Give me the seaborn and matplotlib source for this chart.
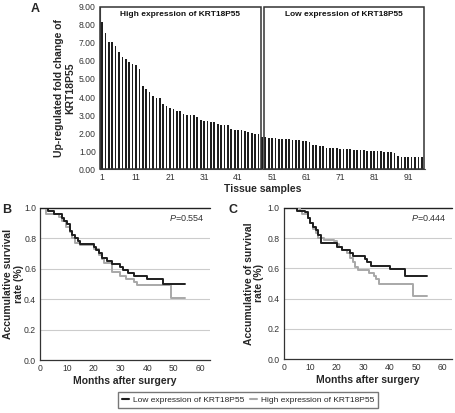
import numpy as np
import pandas as pd
import matplotlib
matplotlib.use("Agg")
import matplotlib.pyplot as plt
from matplotlib.patches import Rectangle
from matplotlib.lines import Line2D
import seaborn as sns

# ---------------- data ----------------
high_fold = [8.17, 7.52, 7.03, 7.03, 6.82, 6.51, 6.20, 6.10, 5.96, 5.83, 5.75, 5.57,
             4.61, 4.43, 4.28, 4.06, 3.97, 3.95, 3.60, 3.50, 3.41, 3.34, 3.23, 3.23,
             3.06, 3.02, 3.02, 2.99, 2.91, 2.71, 2.67, 2.66, 2.62, 2.62, 2.51, 2.47,
             2.47, 2.45, 2.21, 2.19, 2.17, 2.17, 2.14, 2.08, 2.01, 1.97, 1.95]
low_fold = [1.80, 1.79, 1.75, 1.73, 1.72, 1.68, 1.68, 1.66, 1.66, 1.64, 1.62, 1.60,
            1.58, 1.55, 1.53, 1.34, 1.33, 1.31, 1.29, 1.20, 1.18, 1.16, 1.16, 1.13,
            1.12, 1.11, 1.11, 1.08, 1.07, 1.05, 1.05, 1.03, 1.01, 1.01, 1.01, 1.00,
            0.97, 0.96, 0.94, 0.89, 0.74, 0.70, 0.70, 0.70, 0.68, 0.68, 0.68, 0.68]
sample_ticks = [1, 11, 21, 31, 41, 51, 61, 71, 81, 91]
fold_ticks = [0, 1, 2, 3, 4, 5, 6, 7, 8, 9]

# Kaplan-Meier step curves (months, survival)
b_low_t = [0, 3, 5, 8, 9, 10, 11, 12, 13, 14, 15, 20, 21, 22, 23, 25, 27, 30, 31, 33, 35, 40, 46, 54]
b_low_s = [1.0, 0.98, 0.96, 0.93, 0.91, 0.89, 0.85, 0.82, 0.80, 0.78, 0.76, 0.74, 0.72, 0.70,
           0.67, 0.65, 0.63, 0.61, 0.59, 0.57, 0.55, 0.535, 0.50, 0.50]
b_high_t = [0, 2, 7, 8, 9.5, 11, 12, 13, 15, 20, 22, 23, 24, 27, 30, 32, 35, 36, 49, 54]
b_high_s = [1.0, 0.96, 0.94, 0.91, 0.87, 0.84, 0.80, 0.77, 0.755, 0.73, 0.69, 0.66, 0.64,
            0.575, 0.55, 0.53, 0.51, 0.49, 0.405, 0.405]
c_low_t = [0, 5, 8, 9, 10, 11, 12, 13, 14, 20, 22, 25, 26, 30.5, 31.5, 33, 40, 46, 54]
c_low_s = [1.0, 0.98, 0.97, 0.93, 0.90, 0.87, 0.85, 0.82, 0.765, 0.74, 0.72, 0.70, 0.68,
           0.66, 0.64, 0.615, 0.593, 0.55, 0.55]
c_high_t = [0, 6, 7, 9, 10, 11, 12, 13, 15, 19, 20, 21, 22, 24, 25, 26, 27, 28, 32, 34, 35, 36, 49, 54]
c_high_s = [1.0, 0.98, 0.96, 0.93, 0.90, 0.86, 0.83, 0.80, 0.787, 0.78, 0.76, 0.74, 0.72,
            0.70, 0.67, 0.64, 0.61, 0.589, 0.57, 0.55, 0.53, 0.50, 0.415, 0.415]
surv_ticks = [0.0, 0.2, 0.4, 0.6, 0.8, 1.0]
month_ticks = [0, 10, 20, 30, 40, 50, 60]

p_b = "0.554"
p_c = "0.444"
low_label = "Low expression of KRT18P55"
high_label = "High expression of KRT18P55"

# ---------------- style ----------------
sns.set_theme(style="white")
plt.rcParams["font.family"] = ["Liberation Sans", "DejaVu Sans"]
plt.rcParams["mathtext.fontset"] = "custom"
plt.rcParams["mathtext.it"] = "Liberation Sans:italic"
plt.rcParams["mathtext.rm"] = "Liberation Sans"

DARK = "#1e1e1e"
GRAY = "#a8a8a8"

W, H = 456, 413
fig = plt.figure(figsize=(W / 100, H / 100), dpi=100)


def ax_px(l, t, r, b):
    return fig.add_axes([l / W, 1 - b / H, (r - l) / W, (b - t) / H])


# ---------------- panel A ----------------
axA = ax_px(100, 6.7, 425, 169.3)
df = pd.DataFrame({
    "sample": np.arange(1, len(high_fold) + len(low_fold) + 1),
    "fold": high_fold + low_fold,
})
sns.barplot(data=df, x="sample", y="fold", native_scale=True, color=DARK,
            width=0.5, saturation=1, errorbar=None, ax=axA, edgecolor="none")
axA.set_xlim(0.41, 95.95)
axA.set_ylim(0, 9)
axA.set_yticks(fold_ticks)
axA.set_yticklabels([f"{v:.2f}" for v in fold_ticks], fontsize=6.2)
axA.set_xticks(sample_ticks)
axA.set_xticklabels([str(v) for v in sample_ticks], fontsize=6.2)
axA.tick_params(axis="both", length=2, width=0.6, pad=1, color="#444", colors="#333")
for s in ["top", "right"]:
    axA.spines[s].set_visible(False)
for s in ["left", "bottom"]:
    axA.spines[s].set_color("#555")
    axA.spines[s].set_linewidth(0.8)
axA.set_xlabel("Tissue samples", fontsize=7.5, fontweight="bold", labelpad=1)
axA.set_ylabel("Up-regulated fold change of\nKRT18P55", fontsize=7.5,
               fontweight="bold", linespacing=1.1, va="center", ha="center")
axA.yaxis.set_label_coords(-0.108, 0.5)
# group boxes
axA.add_patch(Rectangle((0.41, 0), 47.6 - 0.41, 9, fill=False, lw=1.1,
                        edgecolor="#333", clip_on=False, zorder=5))
axA.add_patch(Rectangle((48.5, 0), 95.6 - 48.5, 9, fill=False, lw=1.1,
                        edgecolor="#333", clip_on=False, zorder=5))
axA.text(24.0, 8.58, high_label, ha="center", va="center", fontsize=6,
         fontweight="bold", color="#111")
axA.text(72.0, 8.58, low_label, ha="center", va="center", fontsize=6,
         fontweight="bold", color="#111")
fig.text(35 / W, 1 - 9 / H, "A", fontsize=9, fontweight="bold", ha="center", va="center")


# ---------------- survival panels ----------------
def km_panel(ax, lt, ls, ht, hs, pval, ylabel, label_x):
    sns.lineplot(x=ht, y=hs, ax=ax, color=GRAY, lw=1.4, drawstyle="steps-post",
                 estimator=None, sort=False, zorder=3)
    sns.lineplot(x=lt, y=ls, ax=ax, color=DARK, lw=1.4, drawstyle="steps-post",
                 estimator=None, sort=False, zorder=4)
    ax.set_xlim(0, 63.5)
    ax.set_ylim(0, 1.0)
    ax.set_yticks(surv_ticks)
    ax.set_yticklabels([f"{v:.1f}" for v in surv_ticks], fontsize=6.2)
    ax.set_xticks(month_ticks)
    ax.set_xticklabels([str(v) for v in month_ticks], fontsize=6.2)
    for v in surv_ticks[1:-1]:
        ax.axhline(v, color="#cccccc", lw=0.8, zorder=1)
    ax.axhline(1.0, color="#222", lw=1.0, zorder=2, clip_on=False)
    ax.tick_params(axis="both", length=2, width=0.6, pad=1, color="#444", colors="#333")
    for s in ["top", "right"]:
        ax.spines[s].set_visible(False)
    for s in ["left", "bottom"]:
        ax.spines[s].set_color("#333")
        ax.spines[s].set_linewidth(0.9)
    ax.set_xlabel("Months after surgery", fontsize=7.5, fontweight="bold", labelpad=2)
    ax.set_ylabel(ylabel, fontsize=7.5, fontweight="bold", linespacing=1.05,
                  va="center", ha="center")
    ax.yaxis.set_label_coords(label_x, 0.5)
    ax.text(0.97, 0.93, r"$\it{P}$=" + pval, transform=ax.transAxes, ha="right",
            va="center", fontsize=6.5, color="#333")


axB = ax_px(40.3, 207.7, 210, 360)
km_panel(axB, b_low_t, b_low_s, b_high_t, b_high_s, p_b,
         "Accumulative survival\nrate (%)", -0.158)
axC = ax_px(284, 207.7, 451.7, 359.3)
km_panel(axC, c_low_t, c_low_s, c_high_t, c_high_s, p_c,
         "Accumulative of survival\nrate (%)", -0.18)
fig.text(7 / W, 1 - 210 / H, "B", fontsize=9, fontweight="bold", ha="center", va="center")
fig.text(233 / W, 1 - 210 / H, "C", fontsize=9, fontweight="bold", ha="center", va="center")

# ---------------- legend ----------------
handles = [Line2D([0], [0], color=DARK, lw=1.5, drawstyle="steps-post"),
           Line2D([0], [0], color=GRAY, lw=1.5, drawstyle="steps-post")]
fig.legend(handles, [low_label, high_label], loc="center",
           bbox_to_anchor=(248 / W, 1 - 400 / H), ncol=2, fontsize=6,
           frameon=True, fancybox=False, edgecolor="#555", handlelength=0.9,
           handletextpad=0.4, columnspacing=0.7, borderpad=0.5)

fig.savefig("out.png", dpi=100)
